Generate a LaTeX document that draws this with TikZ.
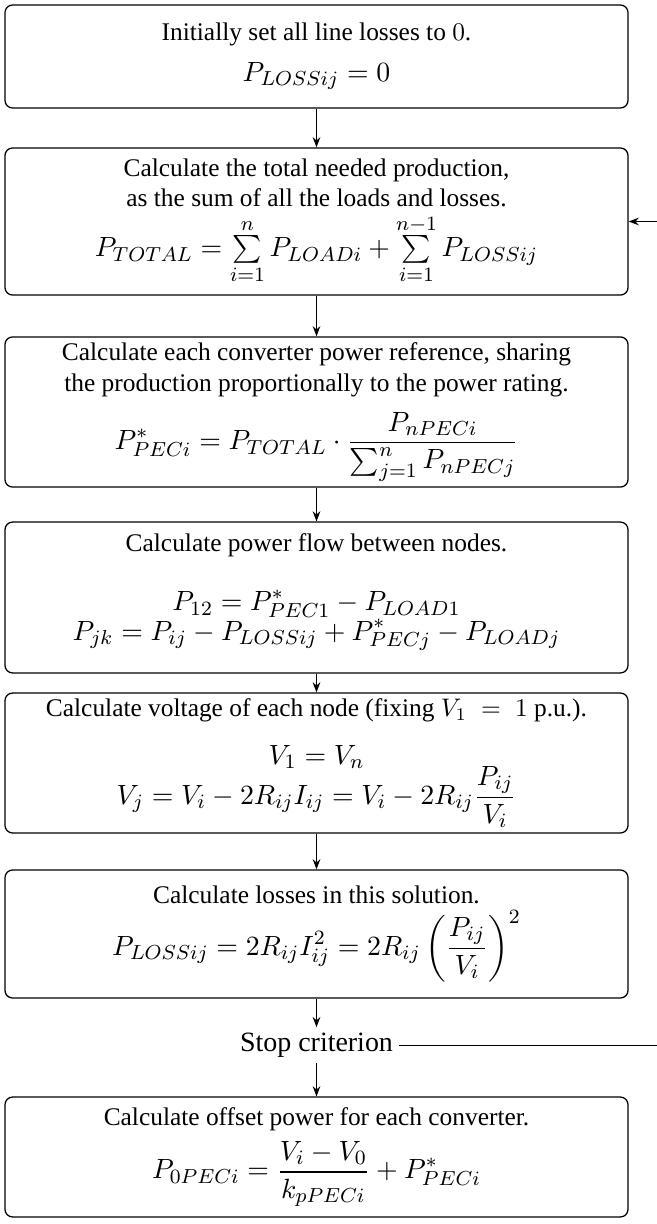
\documentclass[tikz,border=0pt]{standalone}
\usepackage{amsmath}
\usepackage{fontspec}
\setmainfont{Liberation Serif}
\usetikzlibrary{arrows.meta}
\tikzset{
  flowbox/.style={draw, rounded corners=3pt, line width=0.5pt, minimum width=245.3pt,
    align=center, inner sep=0pt, font=\fontsize{10}{12}\selectfont},
  flowarrow/.style={-{Stealth[length=4pt,width=3pt]}, line width=0.4pt},
  stoptext/.style={inner sep=2pt, font=\fontsize{11}{13}\selectfont},
}
\newcommand{\fm}[1]{{\fontsize{10.95}{13}\selectfont$\displaystyle #1$}}
\begin{document}
\begin{tikzpicture}[x=0.3937pt, y=-0.3937pt]
\useasboundingbox (0,0) rectangle (657,1224);
\node[flowbox, minimum height=40.55pt] (b1) at (316.5,56.5)
  {Initially set all line losses to $0$.\\[4pt] \fm{P_{LOSSij} = 0}};
\node[flowbox, minimum height=57.9pt] (b2) at (316.5,221.5)
  {Calculate the total needed production,\\ as the sum of all the loads and losses.\\[2pt]
   \fm{P_{TOTAL} = \textstyle\sum\limits_{i=1}^{n} P_{LOADi} + \sum\limits_{i=1}^{n-1} P_{LOSSij}}};
\node[flowbox, minimum height=59.1pt] (b3) at (316.5,412)
  {Calculate each converter power reference, sharing\\ the production proportionally to the power rating.\\[5pt]
   \fm{P^*_{PECi} = P_{TOTAL}\cdot\frac{P_{nPECi}}{\sum_{j=1}^{n} P_{nPECj}}}};
\node[flowbox, minimum height=59.4pt] (b4) at (316.5,597.5)
  {Calculate power flow between nodes.\\[11.5pt]
   \fm{P_{12} = P^*_{PEC1} - P_{LOAD1}}\\[-0.5pt]
   \fm{P_{jk} = P_{ij} - P_{LOSSij} + P^*_{PECj} - P_{LOADj}}\rule[-8.5pt]{0pt}{8.5pt}};
\node[flowbox, minimum height=55.1pt] (b5) at (316.5,763)
  {Calculate voltage of each node (fixing $V_1 \;=\; 1$ p.u.).\\[7pt]
   \fm{V_1 = V_n}\\[-2pt]
   \fm{V_j = V_i - 2R_{ij}I_{ij} = V_i - 2R_{ij}\frac{P_{ij}}{V_i}}};
\node[flowbox, minimum height=50.4pt] (b6) at (316.5,934)
  {Calculate losses in this solution.\\[1.5pt]
   \fm{P_{LOSSij} = 2R_{ij}I_{ij}^2 = 2R_{ij}\left(\frac{P_{ij}}{V_i}\right)^2}};
\node[stoptext] (stop) at (316.5,1045) {Stop criterion};
\node[flowbox, minimum height=47.2pt] (b7) at (316.5,1157)
  {Calculate offset power for each converter.\\[3pt]
   \fm{P_{0PECi} = \frac{V_i - V_0}{k_{pPECi}} + P^*_{PECi}}};
\draw[flowarrow] (b1) -- (b2);
\draw[flowarrow] (b2) -- (b3);
\draw[flowarrow] (b3) -- (b4);
\draw[flowarrow] (b4) -- (b5);
\draw[flowarrow] (b5) -- (b6);
\draw[flowarrow] (b6) -- (stop);
\draw[flowarrow] (stop) -- (b7);
\coordinate (fbtop) at (700,221.5);
\draw[flowarrow] (stop.east) -- (stop.east -| fbtop) -- (fbtop) -- (b2.east);
\end{tikzpicture}
\end{document}
